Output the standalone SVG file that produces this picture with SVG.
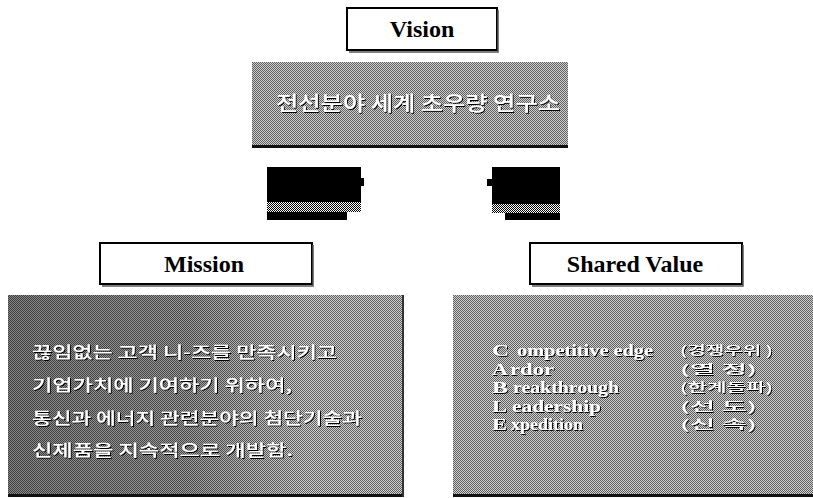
<svg xmlns="http://www.w3.org/2000/svg" width="813" height="498" viewBox="0 0 813 498">
<defs>
<pattern id="dither" width="2" height="2" patternUnits="userSpaceOnUse"><rect width="2" height="2" fill="#cfcfcf"/><rect width="1" height="1" fill="#5e5e5e"/><rect x="1" y="1" width="1" height="1" fill="#5e5e5e"/></pattern>
<pattern id="bw" width="2" height="2" patternUnits="userSpaceOnUse"><rect width="2" height="2" fill="#fff"/><rect width="1" height="1" fill="#000"/><rect x="1" y="1" width="1" height="1" fill="#000"/></pattern>
<linearGradient id="dark" x1="0" y1="0" x2="1" y2="0"><stop offset="0" stop-color="#000" stop-opacity="0.35"/><stop offset="0.45" stop-color="#000" stop-opacity="0.25"/><stop offset="0.75" stop-color="#000" stop-opacity="0"/></linearGradient>
<filter id="sh" x="-5%" y="-20%" width="110%" height="140%"><feDropShadow dx="1" dy="1" stdDeviation="0.3" flood-color="#000" flood-opacity="1"/></filter>
</defs>
<style>
.title{font-family:"Liberation Serif","Times New Roman",serif;font-weight:bold;font-size:24px;fill:#000;text-anchor:middle}
.frame{fill:#fff;stroke:#000;stroke-width:2}
.panel{fill:url(#dither)}
.ko{font-family:"Noto Sans CJK KR","DejaVu Sans",sans-serif;font-weight:500;fill:#fff;filter:url(#sh)}
.en{font-family:"Liberation Serif","Times New Roman",serif;font-weight:bold;fill:#fff;filter:url(#sh)}
.cap{font-size:16.5px}
.low{font-size:16px}
</style>
<rect width="813" height="498" fill="#fff"/>

<g id="connectors">
<rect x="267" y="167" width="94" height="35" fill="#000"/>
<rect x="361" y="178" width="3" height="8" fill="#000"/>
<rect x="267" y="202" width="94" height="10" fill="url(#bw)"/>
<rect x="267" y="212" width="80" height="8" fill="#000"/>
<rect x="492" y="167" width="68" height="37" fill="#000"/>
<rect x="487" y="179" width="5" height="7" fill="#000"/>
<rect x="492" y="204" width="68" height="9" fill="url(#bw)"/>
<rect x="505" y="213" width="55" height="7" fill="#000"/>
</g>

<g id="vision">
<rect class="frame" x="347" y="8" width="150" height="42"/>
<path d="M498 10 V52 H349" fill="none" stroke="#555" stroke-width="1.5"/>
<text class="title" x="422" y="37">Vision</text>
</g>

<g id="vision-statement">
<rect class="panel" x="252" y="62" width="316" height="85"/>
<rect x="252" y="145" width="316" height="3" fill="#111"/>
<text class="ko" x="276" y="111" font-size="20" textLength="284" lengthAdjust="spacingAndGlyphs">전선분야 세계 초우량 연구소</text>
</g>

<g id="mission">
<rect class="frame" x="100" y="243" width="212" height="41"/>
<path d="M313 245 V286 H102" fill="none" stroke="#555" stroke-width="1.5"/>
<text class="title" x="204" y="272">Mission</text>
</g>

<g id="mission-statement">
<rect class="panel" x="8" y="295" width="396" height="202"/>
<rect x="8" y="295" width="396" height="202" fill="url(#dark)"/>
<rect x="8" y="494" width="396" height="3" fill="#111"/>
<rect x="402" y="295" width="2" height="202" fill="#333"/>
<text class="ko" font-size="16">
<tspan x="32" y="358" textLength="305" lengthAdjust="spacingAndGlyphs">끊임없는 고객 니-즈를 만족시키고</tspan>
<tspan x="32" y="391" textLength="260" lengthAdjust="spacingAndGlyphs">기업가치에 기여하기 위하여,</tspan>
<tspan x="32" y="424" textLength="330" lengthAdjust="spacingAndGlyphs">통신과 에너지 관련분야의 첨단기술과</tspan>
<tspan x="32" y="456" textLength="261" lengthAdjust="spacingAndGlyphs">신제품을 지속적으로 개발함.</tspan>
</text>
</g>

<g id="shared-value">
<rect class="frame" x="530" y="243" width="212" height="41"/>
<path d="M743 245 V286 H532" fill="none" stroke="#555" stroke-width="1.5"/>
<text class="title" x="635" y="272">Shared Value</text>
</g>

<g id="shared-value-statement">
<rect class="panel" x="453" y="295" width="360" height="202"/>
<rect x="453" y="494" width="360" height="3" fill="#111"/>
<text class="en cap" x="492" y="356" textLength="17" lengthAdjust="spacingAndGlyphs">C</text>
<text class="en low" x="517" y="356" textLength="136" lengthAdjust="spacingAndGlyphs">ompetitive edge</text>
<text class="en cap" x="492" y="374.5" textLength="16" lengthAdjust="spacingAndGlyphs">A</text>
<text class="en low" x="510" y="374.5" textLength="44" lengthAdjust="spacingAndGlyphs">rdor</text>
<text class="en cap" x="492" y="393" textLength="16" lengthAdjust="spacingAndGlyphs">B</text>
<text class="en low" x="513" y="393" textLength="106" lengthAdjust="spacingAndGlyphs">reakthrough</text>
<text class="en cap" x="492" y="411.5" textLength="15" lengthAdjust="spacingAndGlyphs">L</text>
<text class="en low" x="512" y="411.5" textLength="89" lengthAdjust="spacingAndGlyphs">eadership</text>
<text class="en cap" x="492" y="430" textLength="15" lengthAdjust="spacingAndGlyphs">E</text>
<text class="en low" x="511" y="430" textLength="72" lengthAdjust="spacingAndGlyphs">xpedition</text>
<text class="ko" font-size="12.5">
<tspan x="680" y="355" textLength="93" lengthAdjust="spacingAndGlyphs">(경쟁우위 )</tspan>
<tspan x="680" y="373.5" textLength="77" lengthAdjust="spacingAndGlyphs">(열  정)</tspan>
<tspan x="680" y="392" textLength="93" lengthAdjust="spacingAndGlyphs">(한계돌파)</tspan>
<tspan x="680" y="410.5" textLength="77" lengthAdjust="spacingAndGlyphs">(선  도)</tspan>
<tspan x="680" y="429" textLength="77" lengthAdjust="spacingAndGlyphs">(신  속)</tspan>
</text>
</g>
</svg>
